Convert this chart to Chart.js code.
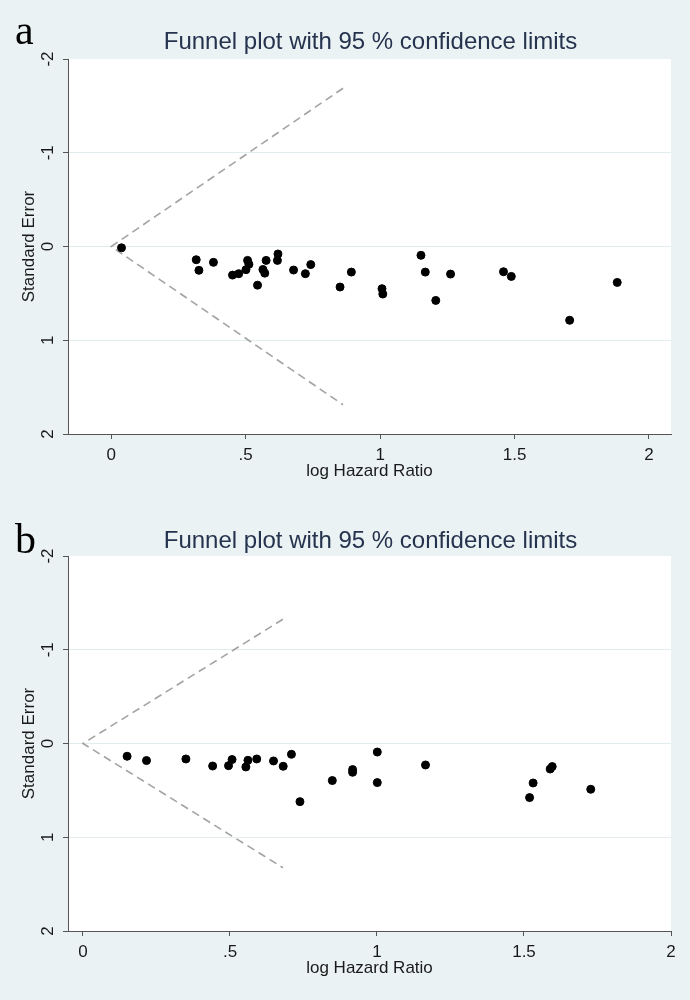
<!DOCTYPE html>
<html><head><meta charset="utf-8">
<script src="https://cdn.jsdelivr.net/npm/chart.js@4.4.1/dist/chart.umd.min.js"></script>
<style>
html,body{margin:0;padding:0;background:#EAF2F3;}
body{width:690px;height:1000px;position:relative;overflow:hidden;}
canvas{position:absolute;left:0;}
#ca{top:0px;}
#cb{top:497px;}
</style></head><body>
<canvas id="ca" width="690" height="500"></canvas>
<canvas id="cb" width="690" height="500"></canvas>
<script>
const chartTitle = 'Funnel plot with 95 % confidence limits';
const xAxisTitle = 'log Hazard Ratio';
const yAxisTitle = 'Standard Error';
const xTickValues = [0, 0.5, 1, 1.5, 2];
const xTickLabels = ['0', '.5', '1', '1.5', '2'];
const yTickValues = [-2, -1, 0, 1, 2];
const yTickLabels = ['-2', '-1', '0', '1', '2'];

// Panel a
const aLabel = 'a';
const aLogHR = [0.038,0.316,0.326,0.380,0.451,0.474,0.507,0.512,0.501,0.544,0.564,0.571,0.576,0.620,0.618,0.678,0.722,0.742,0.851,0.893,1.007,1.010,1.152,1.168,1.207,1.262,1.459,1.488,1.705,1.882];
const aSE    = [0.014,0.141,0.254,0.169,0.305,0.290,0.148,0.190,0.247,0.412,0.245,0.284,0.148,0.080,0.148,0.251,0.290,0.193,0.432,0.273,0.450,0.507,0.094,0.273,0.575,0.294,0.269,0.319,0.787,0.383];
const aFunnelX = [0.862, 0, 0.862];
const aFunnelY = [-1.688, 0, 1.688];
const aXRange = [-0.161, 2.082];

// Panel b
const bLabel = 'b';
const bLogHR = [0.150,0.216,0.350,0.441,0.495,0.507,0.554,0.561,0.591,0.648,0.681,0.709,0.738,0.848,0.917,0.917,1.001,1.001,1.165,1.519,1.531,1.589,1.596,1.727];
const bSE    = [0.136,0.182,0.165,0.240,0.236,0.171,0.250,0.179,0.165,0.186,0.243,0.115,0.620,0.395,0.278,0.307,0.091,0.417,0.229,0.577,0.421,0.272,0.246,0.488];
const bFunnelX = [0.680, 0, 0.680];
const bFunnelY = [-1.325, 0, 1.325];
const bXRange = [-0.051, 2.0];

const FONT = '"Liberation Sans", Arial, sans-serif';
const AXIS_COLOR = '#555555';
const TEXT_COLOR = '#1a1a1a';
const GRID_COLOR = '#E3ECEF';

function makeChart(id, panelLabel, xs, ys, fx, fy, xr, labelBaseline, titleY) {
  const pts = xs.map((x, i) => ({x: x, y: ys[i]}));
  const funnel = fx.map((x, i) => ({x: x, y: fy[i]}));
  const decor = {
    id: 'decor',
    beforeDraw(chart) {
      const {ctx, chartArea: a} = chart;
      ctx.save();
      ctx.fillStyle = '#ffffff';
      ctx.fillRect(a.left, a.top, a.right - a.left, a.bottom - a.top);
      ctx.restore();
    },
    afterDraw(chart) {
      const ctx = chart.ctx;
      const ys = chart.scales.y;
      ctx.save();
      // title
      ctx.fillStyle = '#26334F';
      ctx.font = '24px ' + FONT;
      ctx.textAlign = 'center';
      ctx.textBaseline = 'middle';
      ctx.fillText(chartTitle, 370.5, titleY);
      // panel letter
      ctx.fillStyle = '#000000';
      ctx.font = '42px "Liberation Serif", "Times New Roman", serif';
      ctx.textAlign = 'left';
      ctx.textBaseline = 'alphabetic';
      ctx.fillText(panelLabel, 15, labelBaseline);
      // rotated y tick labels
      ctx.fillStyle = TEXT_COLOR;
      ctx.font = '17px ' + FONT;
      ctx.textAlign = 'center';
      ctx.textBaseline = 'middle';
      ys.ticks.forEach((t) => {
        const idx = yTickValues.indexOf(t.value);
        if (idx < 0) return;
        const py = ys.getPixelForValue(t.value);
        ctx.save();
        ctx.translate(48, py);
        ctx.rotate(-Math.PI / 2);
        ctx.fillText(yTickLabels[idx], 0, 0);
        ctx.restore();
      });
      ctx.restore();
    }
  };
  return new Chart(document.getElementById(id), {
    type: 'scatter',
    data: {
      datasets: [
        {
          type: 'scatter',
          data: pts,
          pointRadius: 4,
          pointBorderWidth: 1,
          pointBackgroundColor: '#000000',
          pointBorderColor: '#000000',
          pointHoverRadius: 4
        },
        {
          type: 'line',
          data: funnel,
          borderColor: '#A3A3A3',
          borderWidth: 1.6,
          borderDash: [8, 5],
          pointRadius: 0,
          tension: 0,
          fill: false
        }
      ]
    },
    options: {
      responsive: false,
      animation: false,
      events: [],
      layout: {padding: {left: 0, right: 19, top: 59, bottom: 0}},
      plugins: {legend: {display: false}, tooltip: {enabled: false}, title: {display: false}},
      scales: {
        x: {
          type: 'linear',
          min: xr[0],
          max: xr[1],
          afterFit: (s) => { s.height = 66; },
          afterBuildTicks: (s) => { s.ticks = xTickValues.map(v => ({value: v})); },
          ticks: {
            autoSkip: false,
            maxRotation: 0,
            minRotation: 0,
            padding: 6,
            color: TEXT_COLOR,
            font: {family: FONT, size: 17},
            callback: (v) => { const i = xTickValues.indexOf(v); return i >= 0 ? xTickLabels[i] : ''; }
          },
          grid: {drawOnChartArea: false, drawTicks: true, tickLength: 5, tickColor: AXIS_COLOR, color: AXIS_COLOR},
          border: {display: true, color: AXIS_COLOR, width: 1},
          title: {display: true, text: xAxisTitle, color: TEXT_COLOR, font: {family: FONT, size: 17}, padding: {top: 0, bottom: 18}}
        },
        y: {
          type: 'linear',
          reverse: true,
          min: -2,
          max: 2,
          afterFit: (s) => { s.width = 68; },
          afterBuildTicks: (s) => { s.ticks = yTickValues.map(v => ({value: v})); },
          ticks: {display: false},
          grid: {
            drawTicks: true,
            tickLength: 5,
            tickColor: AXIS_COLOR,
            color: (c) => (c.tick && (c.tick.value === -2 || c.tick.value === 2)) ? 'rgba(0,0,0,0)' : GRID_COLOR,
            lineWidth: 1
          },
          border: {display: true, color: AXIS_COLOR, width: 1},
          title: {display: true, text: yAxisTitle, color: TEXT_COLOR, font: {family: FONT, size: 17}, padding: {top: 19, bottom: 0}}
        }
      }
    },
    plugins: [decor]
  });
}

makeChart('ca', aLabel, aLogHR, aSE, aFunnelX, aFunnelY, aXRange, 44, 42);
makeChart('cb', bLabel, bLogHR, bSE, bFunnelX, bFunnelY, bXRange, 56, 44);
</script>
</body></html>
